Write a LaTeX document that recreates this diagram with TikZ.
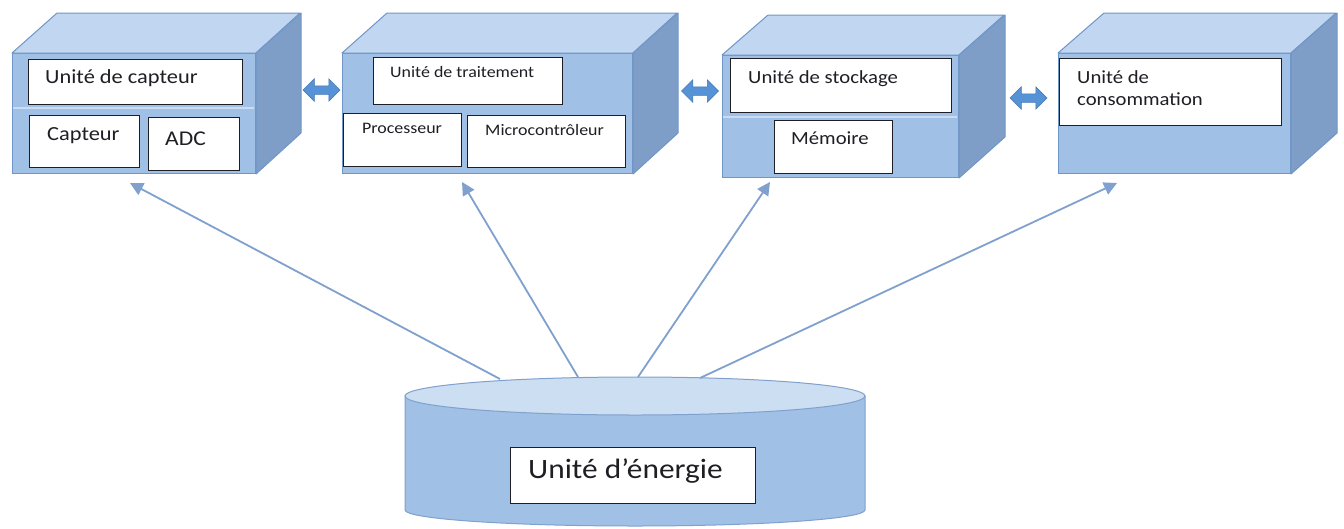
\documentclass[tikz,border=0pt]{standalone}
\usepackage{fontspec}
\setmainfont[FakeStretch=1.12]{Carlito}
\usetikzlibrary{arrows.meta,shapes.arrows}
\definecolor{frontc}{RGB}{160,192,230}
\definecolor{topc}{RGB}{192,214,241}
\definecolor{sidec}{RGB}{126,158,200}
\definecolor{edgec}{RGB}{112,150,200}
\definecolor{sepc}{RGB}{200,220,245}
\definecolor{arrc}{RGB}{86,146,214}
\definecolor{arredge}{RGB}{70,120,180}
\definecolor{connc}{RGB}{128,160,205}
\definecolor{cyltop}{RGB}{204,222,242}
\definecolor{inkc}{RGB}{30,30,36}
\tikzset{
  front/.style={draw=edgec, fill=frontc, line width=1pt, inner sep=0pt, anchor=north west},
  topface/.style={draw=edgec, fill=topc, line width=1pt, line join=round},
  sideface/.style={draw=edgec, fill=sidec, line width=1pt, line join=round},
  inbox/.style={draw=inkc, fill=white, line width=1.3pt, inner sep=0pt, anchor=north west},
  lbl/.style={inner sep=0pt, anchor=base west, text=inkc},
  sepline/.style={draw=sepc, line width=1.5pt},
  darr/.style={double arrow, fill=arrc, draw=arredge, line width=0.5pt, inner sep=4pt,
    minimum width=22pt, minimum height=37pt, double arrow head extend=7pt},
  conn/.style={draw=connc, line width=1.8pt, -{Triangle[length=13pt,width=13pt]}},
}
\begin{document}
\begin{tikzpicture}[x=1pt,y=-1pt]
\useasboundingbox[fill=white] (0,0) rectangle (1344,528);

% ---------- Box 1 ----------
\node[front, minimum width=243pt, minimum height=120pt] (f1) at (12,53) {};
\path[topface] (f1.north west) -- ++(45,-40) -- ++(243,0) -- (f1.north east) -- cycle;
\path[sideface] (f1.north east) -- ++(45,-40) -- ++(0,120) -- (f1.south east) -- cycle;
\draw[sepline] (13,108) -- (254,108);
\node[inbox, minimum width=214pt, minimum height=45pt] (b11) at (28,59) {};
\node[lbl, font=\fontsize{20}{24}\selectfont] (t11) at (45,83) {Unité de capteur};
\node[inbox, minimum width=110pt, minimum height=52pt] (b12) at (29,115) {};
\node[lbl, font=\fontsize{20}{24}\selectfont] (t12) at (47,140) {Capteur};
\node[inbox, minimum width=91pt, minimum height=53pt] (b13) at (148,117) {};
\node[lbl, font=\fontsize{21}{24}\selectfont] (t13) at (165,145) {ADC};

% ---------- Box 2 ----------
\node[front, minimum width=290pt, minimum height=120pt] (f2) at (342,53) {};
\path[topface] (f2.north west) -- ++(45,-40) -- ++(290,0) -- (f2.north east) -- cycle;
\path[sideface] (f2.north east) -- ++(45,-40) -- ++(0,120) -- (f2.south east) -- cycle;
\node[inbox, minimum width=189pt, minimum height=47pt] (b21) at (373,57) {};
\node[lbl, font=\fontsize{16}{20}\selectfont] (t21) at (390,77) {Unité de traitement};
\node[inbox, minimum width=118pt, minimum height=53pt] (b22) at (343,113) {};
\node[lbl, font=\fontsize{16}{20}\selectfont] (t22) at (362,133) {Processeur};
\node[inbox, minimum width=158pt, minimum height=52pt] (b23) at (467,115) {};
\node[lbl, font=\fontsize{16}{20}\selectfont] (t23) at (485,135) {Microcontrôleur};

% ---------- Box 3 ----------
\node[front, minimum width=236pt, minimum height=122pt] (f3) at (722,55) {};
\path[topface] (f3.north west) -- ++(46,-40) -- ++(236,0) -- (f3.north east) -- cycle;
\path[sideface] (f3.north east) -- ++(46,-40) -- ++(0,122) -- (f3.south east) -- cycle;
\draw[sepline] (723,117) -- (957,117);
\node[inbox, minimum width=221pt, minimum height=54pt] (b31) at (730,58) {};
\node[lbl, font=\fontsize{18.5}{22}\selectfont] (t31) at (748,83) {Unité de stockage};
\node[inbox, minimum width=118pt, minimum height=53pt] (b32) at (774,120) {};
\node[lbl, font=\fontsize{18.5}{22}\selectfont] (t32) at (791,144) {Mémoire};

% ---------- Box 4 ----------
\node[front, minimum width=232pt, minimum height=120pt] (f4) at (1058,53) {};
\path[topface] (f4.north west) -- ++(46,-40) -- ++(232,0) -- (f4.north east) -- cycle;
\path[sideface] (f4.north east) -- ++(46,-40) -- ++(0,120) -- (f4.south east) -- cycle;
\node[inbox, minimum width=222pt, minimum height=67pt] (b41) at (1059,58) {};
\node[lbl, font=\fontsize{18.5}{22}\selectfont] (t41) at (1077,83) {Unité de};
\node[lbl, font=\fontsize{18.5}{22}\selectfont] (t42) at (1077,105) {consommation};

% ---------- Double arrows ----------
\node[darr] (d1) at (321.5,90) {};
\node[darr] (d2) at (700,91) {};
\node[darr] (d3) at (1028.5,98) {};

% ---------- Energy cylinder ----------
\path[draw=connc, fill=frontc, line width=1pt]
  (405,396) -- (405,510) arc[start angle=180, end angle=360, x radius=230pt, y radius=16pt]
  -- (865,396) -- cycle;
\path[draw=connc, fill=cyltop, line width=1pt] (635,396) ellipse[x radius=230pt, y radius=19pt];
\node[inbox, minimum width=245pt, minimum height=56pt] (be) at (510,447) {};
\node[lbl, font=\fontsize{28}{32}\selectfont] (te) at (528,478) {Unité d’énergie};

% ---------- Connectors ----------
\coordinate (s1) at (500,379);
\coordinate (s2) at (578,377);
\coordinate (s3) at (638,377);
\coordinate (s4) at (700,378);
\coordinate (e1) at (130,183);
\coordinate (e2) at (462,182);
\coordinate (e3) at (770,182);
\coordinate (e4) at (1117,183);
\draw[conn] (s1) -- (e1);
\draw[conn] (s2) -- (e2);
\draw[conn] (s3) -- (e3);
\draw[conn] (s4) -- (e4);
\end{tikzpicture}
\end{document}
